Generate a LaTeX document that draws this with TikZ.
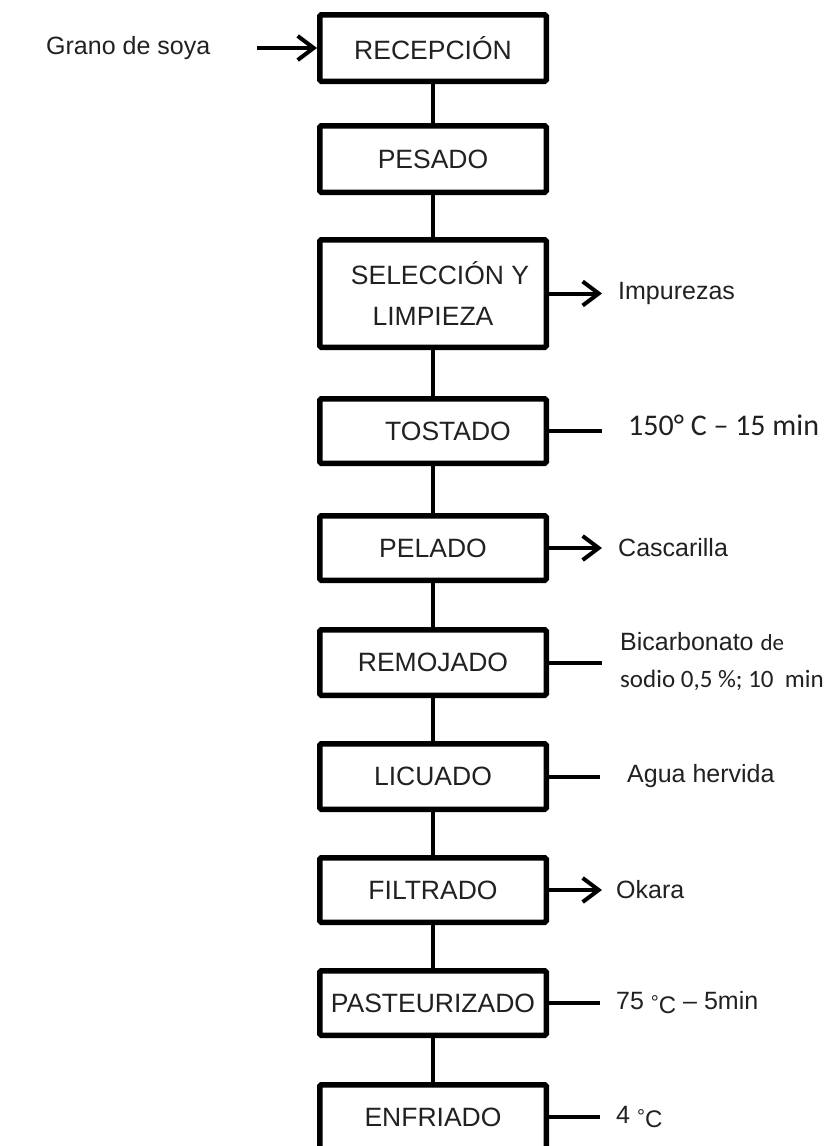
\documentclass[tikz,border=0pt]{standalone}
\usepackage{fontspec}
\setmainfont{Liberation Sans}
\newfontfamily\carl{Carlito}
\usetikzlibrary{arrows.meta}
\definecolor{txt}{gray}{0.13}
\begin{document}
\begin{tikzpicture}[x=1pt,y=-1pt,
  box/.style={draw=black, line width=5.5pt, rounded corners=1.5pt, minimum width=226.5pt,
    inner sep=0pt, align=center, font=\fontsize{26.5}{41}\selectfont, text=txt},
  lbl/.style={anchor=west, inner sep=0pt, font=\fontsize{25}{30}\selectfont, text=txt},
  vline/.style={line width=3.5pt},
  sline/.style={line width=4pt},
  sarrow/.style={line width=4pt, -{Straight Barb[length=16pt,width=24pt,line width=4pt]}}]
\useasboundingbox (0,0) rectangle (827,1146);
\clip (0,0) rectangle (827,1146);
\fill[white] (0,0) rectangle (827,1146);
% process boxes
\node[box, minimum height=66.5pt] (recep) at (433,48) {RECEPCIÓN};
\node[box, minimum height=66.5pt] (pes) at (433,159) {PESADO};
\node[box, minimum height=107.5pt] (sel) at (433,293.5) {\hspace*{14pt}SELECCIÓN Y\\LIMPIEZA};
\node[box, minimum height=64.5pt] (tos) at (433,431) {\hspace*{30pt}TOSTADO};
\node[box, minimum height=64.5pt] (pel) at (433,548) {PELADO};
\node[box, minimum height=65.5pt] (rem) at (433,662.5) {REMOJADO};
\node[box, minimum height=65.5pt] (lic) at (433,776.5) {LICUADO};
\node[box, minimum height=64.5pt] (fil) at (433,890) {FILTRADO};
\node[box, minimum height=64.5pt] (pas) at (433,1003) {PASTEURIZADO};
\node[box, minimum height=64.5pt] (enf) at (433,1117) {ENFRIADO};
% vertical connectors
\foreach \a/\b in {recep/pes, pes/sel, sel/tos, tos/pel, pel/rem, rem/lic, lic/fil, fil/pas, pas/enf}
  \draw[vline] (\a.south) -- (\b.north);
% input
\node[lbl] (grano) at (46,48) {Grano de soya};
\coordinate (g0) at (257,48);
\draw[sarrow] (g0) -- (recep.west);
% side labels
\node[lbl] (imp) at (618,293.5) {Impurezas};
\node[lbl, font=\carl\fontsize{30}{36}\selectfont] (t150) at (628,425) {150° C – 15 min};
\node[lbl] (casc) at (618,548) {Cascarilla};
\node[lbl, align=left, font=\fontsize{25}{37}\selectfont] (bic) at (620,662)
  {Bicarbonato {\carl\fontsize{23}{26}\selectfont de}\\{\carl sodio 0,5 \%; 10\ \ min}};
\node[lbl] (agua) at (627,776.5) {Agua hervida};
\node[lbl] (okara) at (616,890) {Okara};
\node[lbl] (t75) at (616,1003) {75 {\fontsize{20}{24}\selectfont °\raisebox{-4pt}{\fontsize{24}{24}\selectfont C}} – 5min};
\node[lbl] (t4) at (616,1117) {4 {\fontsize{20}{24}\selectfont °\raisebox{-4pt}{\fontsize{24}{24}\selectfont C}}};
% side connector ends
\coordinate (e3) at (602,293.5);
\coordinate (e4) at (602,431);
\coordinate (e5) at (602,548);
\coordinate (e6) at (602,662.5);
\coordinate (e7) at (600,776.5);
\coordinate (e8) at (602,890);
\coordinate (e9) at (600,1003);
\coordinate (e10) at (600,1117);
\draw[sarrow] (sel.east) -- (e3);
\draw[sline] (tos.east) -- (e4);
\draw[sarrow] (pel.east) -- (e5);
\draw[sline] (rem.east) -- (e6);
\draw[sline] (lic.east) -- (e7);
\draw[sarrow] (fil.east) -- (e8);
\draw[sline] (pas.east) -- (e9);
\draw[sline] (enf.east) -- (e10);
\end{tikzpicture}
\end{document}
